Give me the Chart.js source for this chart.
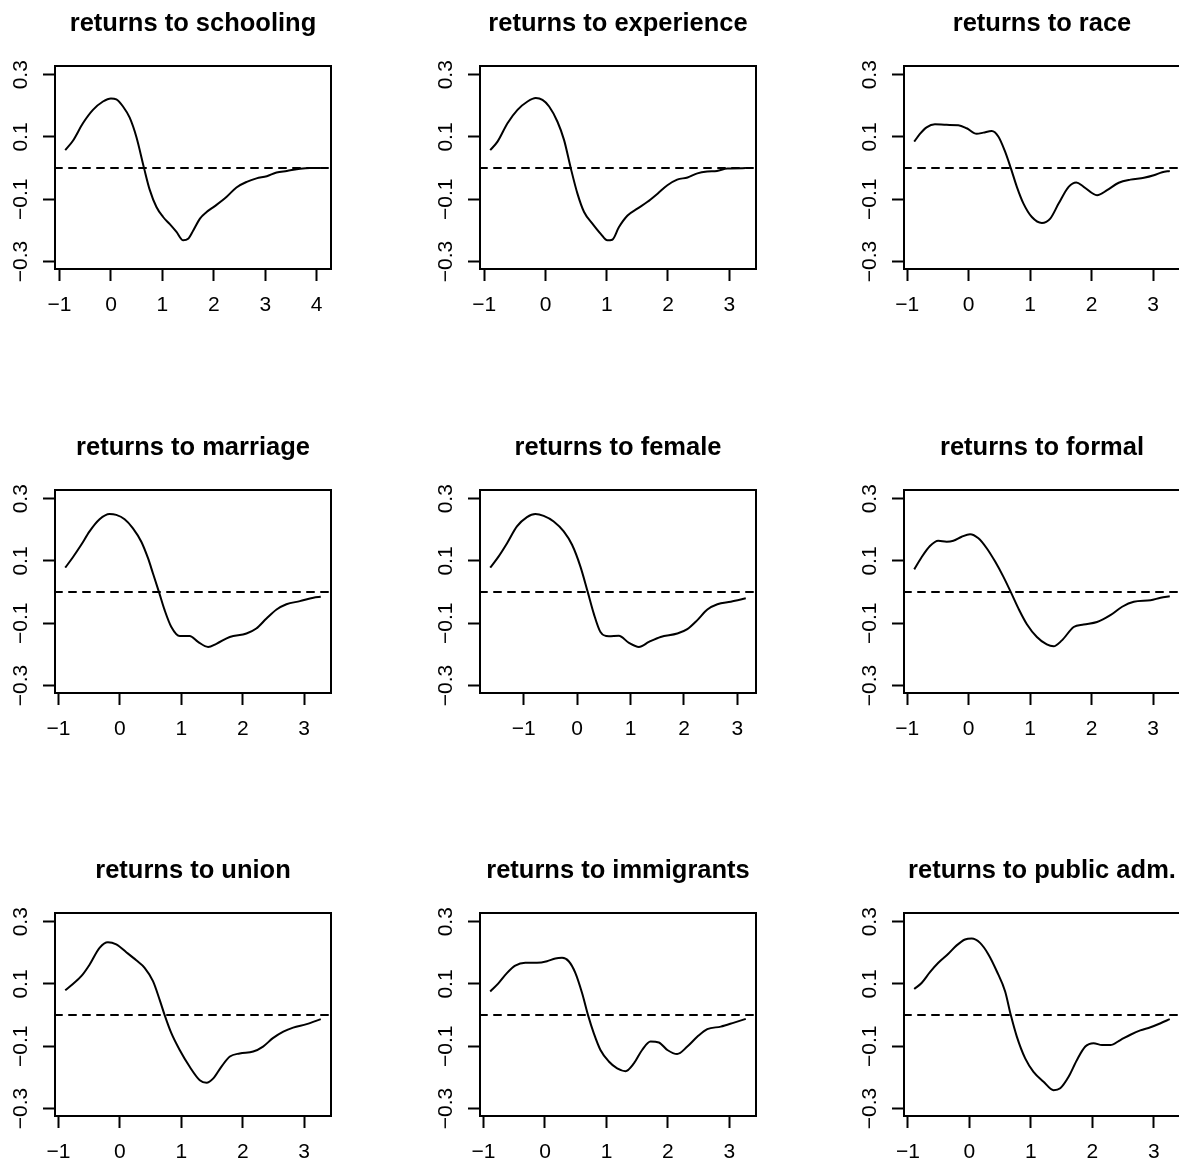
<!DOCTYPE html>
<html>
<head>
<meta charset="utf-8">
<script src="https://cdn.jsdelivr.net/npm/chart.js@4/dist/chart.umd.min.js"></script>
<style>
  html, body { margin: 0; padding: 0; background: #fff; }
  body { width: 1179px; height: 1167px; overflow: hidden; position: relative; }
  canvas { position: absolute; }
</style>
</head>
<body>
<script>
// Smoothed return profiles, one pair of arrays per covariate
const titles = [
  'returns to schooling', 'returns to experience', 'returns to race',
  'returns to marriage', 'returns to female', 'returns to formal',
  'returns to union', 'returns to immigrants', 'returns to public adm.'
];

const schoolingX = [-0.89,-0.74,-0.546,-0.351,-0.156,0,0.104,0.234,0.364,0.494,0.643,0.754,0.884,1.014,1.144,1.274,1.404,1.50,1.60,1.73,1.86,2.02,2.25,2.44,2.64,2.83,3.03,3.22,3.42,3.68,3.87,4.08];
const schoolingY = [0.058,0.088,0.144,0.187,0.214,0.224,0.221,0.198,0.162,0.100,0,-0.070,-0.125,-0.157,-0.180,-0.205,-0.232,-0.227,-0.20,-0.162,-0.141,-0.122,-0.092,-0.062,-0.044,-0.033,-0.026,-0.014,-0.009,-0.002,0,0];

const experienceX = [-0.902,-0.783,-0.62,-0.457,-0.293,-0.158,-0.049,0.06,0.196,0.304,0.413,0.522,0.63,0.766,0.902,1.01,1.09,1.20,1.34,1.50,1.66,1.83,1.99,2.15,2.32,2.48,2.64,2.80,2.97,3.27];
const experienceY = [0.058,0.085,0.144,0.187,0.214,0.225,0.219,0.198,0.149,0.090,0,-0.082,-0.141,-0.178,-0.211,-0.232,-0.23,-0.189,-0.152,-0.130,-0.109,-0.082,-0.055,-0.037,-0.030,-0.017,-0.011,-0.009,-0.001,0];

const raceX = [-0.886,-0.793,-0.685,-0.549,-0.359,-0.168,-0.033,0.13,0.239,0.375,0.484,0.592,0.685,0.783,0.891,1.027,1.19,1.326,1.462,1.625,1.75,1.87,2.087,2.25,2.44,2.63,2.85,3.01,3.147,3.27];
const raceY = [0.085,0.110,0.131,0.141,0.139,0.138,0.128,0.110,0.114,0.119,0.101,0.053,0,-0.060,-0.114,-0.157,-0.176,-0.162,-0.114,-0.060,-0.046,-0.060,-0.087,-0.071,-0.047,-0.037,-0.031,-0.023,-0.013,-0.009];

const marriageX = [-0.891,-0.766,-0.63,-0.495,-0.332,-0.168,-0.06,0.076,0.212,0.348,0.457,0.538,0.636,0.728,0.837,0.973,1.136,1.272,1.435,1.57,1.788,2.06,2.22,2.386,2.55,2.71,2.93,3.15,3.27];
const marriageY = [0.0785,0.112,0.152,0.195,0.234,0.251,0.248,0.234,0.205,0.162,0.109,0.060,0,-0.058,-0.112,-0.141,-0.141,-0.16,-0.176,-0.166,-0.144,-0.133,-0.117,-0.085,-0.056,-0.039,-0.029,-0.018,-0.015];

const femaleX = [-1.625,-1.47,-1.31,-1.125,-0.9375,-0.78,-0.625,-0.4375,-0.25,-0.094,0.0625,0.2,0.3125,0.4375,0.594,0.78,0.97,1.156,1.344,1.5625,1.875,2.0625,2.25,2.4375,2.625,2.875,3.156];
const femaleY = [0.0785,0.114,0.157,0.211,0.241,0.251,0.245,0.227,0.195,0.152,0.082,0,-0.069,-0.128,-0.142,-0.140,-0.163,-0.176,-0.160,-0.144,-0.133,-0.119,-0.090,-0.056,-0.039,-0.031,-0.020];

const formalX = [-0.886,-0.766,-0.63,-0.495,-0.359,-0.25,-0.114,0.022,0.158,0.293,0.43,0.565,0.685,0.81,0.946,1.109,1.27,1.38,1.516,1.707,1.87,2.087,2.304,2.495,2.685,2.957,3.12,3.27];
const formalY = [0.073,0.112,0.148,0.165,0.162,0.165,0.178,0.186,0.173,0.141,0.098,0.049,0,-0.053,-0.103,-0.144,-0.168,-0.174,-0.155,-0.112,-0.104,-0.096,-0.074,-0.047,-0.031,-0.026,-0.018,-0.013];

const unionX = [-0.891,-0.766,-0.63,-0.495,-0.332,-0.196,-0.06,0.103,0.266,0.402,0.538,0.647,0.728,0.837,0.973,1.136,1.30,1.41,1.52,1.65,1.79,1.95,2.17,2.33,2.49,2.66,2.82,3.04,3.27];
const unionY = [0.0796,0.10,0.125,0.162,0.216,0.234,0.227,0.202,0.176,0.152,0.109,0.049,0,-0.058,-0.112,-0.166,-0.209,-0.217,-0.203,-0.166,-0.133,-0.123,-0.117,-0.101,-0.074,-0.053,-0.040,-0.029,-0.013];

const immigrantsX = [-0.891,-0.755,-0.62,-0.484,-0.32,-0.13,0.033,0.168,0.277,0.386,0.495,0.603,0.70,0.793,0.902,1.038,1.174,1.31,1.446,1.58,1.717,1.853,1.99,2.15,2.315,2.48,2.64,2.86,3.076,3.266];
const immigrantsY = [0.076,0.103,0.135,0.159,0.168,0.168,0.173,0.182,0.184,0.173,0.135,0.071,0,-0.058,-0.112,-0.149,-0.171,-0.180,-0.155,-0.112,-0.085,-0.088,-0.112,-0.125,-0.101,-0.069,-0.045,-0.037,-0.024,-0.012];

const publicX = [-0.897,-0.777,-0.641,-0.505,-0.342,-0.207,-0.071,0.038,0.174,0.31,0.446,0.582,0.674,0.772,0.908,1.043,1.207,1.37,1.478,1.614,1.75,1.886,2.02,2.158,2.293,2.457,2.62,2.78,2.946,3.11,3.26];
const publicY = [0.084,0.103,0.138,0.168,0.197,0.224,0.243,0.246,0.232,0.195,0.141,0.076,0,-0.069,-0.139,-0.182,-0.214,-0.241,-0.235,-0.198,-0.144,-0.101,-0.090,-0.096,-0.096,-0.080,-0.063,-0.049,-0.039,-0.026,-0.013];

const yTicks = [-0.3, -0.1, 0.1, 0.3];
const yLimits = [-0.324, 0.328];
const xTicksLong = [-1, 0, 1, 2, 3, 4];
const xTicksShort = [-1, 0, 1, 2, 3];

const curves = [
  [schoolingX, schoolingY, xTicksLong],
  [experienceX, experienceY, xTicksShort],
  [raceX, raceY, xTicksShort],
  [marriageX, marriageY, xTicksShort],
  [femaleX, femaleY, xTicksShort],
  [formalX, formalY, xTicksShort],
  [unionX, unionY, xTicksShort],
  [immigrantsX, immigrantsY, xTicksShort],
  [publicX, publicY, xTicksShort]
];

// ---- drawing ----
const FONT = '"Liberation Sans", Arial, Helvetica, sans-serif';
const LW = 2;
const TICK_FONT = 21, TITLE_FONT = 25.5;
const CELL = 424;                 // canvas size per panel
const COL_LEFT = [0, 425, 849];
const ROW_TOP = [0, 424, 847];
const PLOT_LEFT = 55, PLOT_W = 276, PLOT_TOP = 66, PLOT_H = 203, X_AXIS_H = 60;
const TITLE_PAD_TOP = 9;

const minus = s => s.replace('-', '\u2212');

// R-style frame around the plotting region
const framePlugin = {
  id: 'frame',
  afterDatasetsDraw(chart) {
    const { ctx, chartArea: a } = chart;
    ctx.save();
    ctx.strokeStyle = '#000';
    ctx.lineWidth = LW;
    ctx.strokeRect(a.left, a.top, a.right - a.left, a.bottom - a.top);
    ctx.restore();
  }
};

curves.forEach(([xs, ys, xt], i) => {
  const lo = Math.min(...xs), hi = Math.max(...xs);
  const pad = 0.04 * (hi - lo);
  const xMin = lo - pad, xMax = hi + pad;

  const cv = document.createElement('canvas');
  cv.width = CELL; cv.height = CELL;
  cv.style.width = CELL + 'px'; cv.style.height = CELL + 'px';
  cv.style.left = COL_LEFT[i % 3] + 'px';
  cv.style.top = ROW_TOP[Math.floor(i / 3)] + 'px';
  document.body.appendChild(cv);

  const axisGrid = {
    display: true, drawOnChartArea: false, drawTicks: true,
    tickLength: 12, tickWidth: LW, tickColor: '#000', color: '#000'
  };

  new Chart(cv, {
    type: 'line',
    data: {
      datasets: [
        {
          data: xs.map((x, k) => ({ x, y: ys[k] })),
          borderColor: '#000', borderWidth: LW, pointRadius: 0,
          cubicInterpolationMode: 'monotone', fill: false
        },
        {
          data: [{ x: xMin, y: 0 }, { x: xMax, y: 0 }],
          borderColor: '#000', borderWidth: LW, pointRadius: 0,
          borderDash: [7, 7], borderCapStyle: 'round', fill: false
        }
      ]
    },
    options: {
      responsive: false, animation: false, devicePixelRatio: 1,
      events: [],
      layout: {
        padding: { left: 0, top: 0, right: CELL - PLOT_LEFT - PLOT_W, bottom: CELL - PLOT_TOP - PLOT_H - X_AXIS_H }
      },
      plugins: {
        legend: { display: false },
        tooltip: { enabled: false },
        title: {
          display: true, text: titles[i], fullSize: false, color: '#000',
          font: { family: FONT, size: TITLE_FONT, weight: 'bold', lineHeight: 1.2 },
          padding: { top: TITLE_PAD_TOP, bottom: PLOT_TOP - TITLE_PAD_TOP - TITLE_FONT * 1.2 }
        }
      },
      scales: {
        x: {
          type: 'linear', min: xMin, max: xMax,
          afterBuildTicks: s => { s.ticks = xt.map(v => ({ value: v })); },
          afterFit: s => { s.height = X_AXIS_H; s.paddingLeft = 0; s.paddingRight = 0; },
          grid: axisGrid,
          border: { display: true, color: '#000', width: LW },
          ticks: {
            color: '#000', font: { family: FONT, size: TICK_FONT }, padding: 12,
            maxRotation: 0, autoSkip: false,
            callback: v => minus(String(v))
          }
        },
        y: {
          type: 'linear', min: yLimits[0], max: yLimits[1],
          afterBuildTicks: s => { s.ticks = yTicks.map(v => ({ value: v })); },
          afterFit: s => { s.width = PLOT_LEFT; s.paddingTop = 0; s.paddingBottom = 0; },
          grid: axisGrid,
          border: { display: true, color: '#000', width: LW },
          ticks: {
            color: '#000', font: { family: FONT, size: TICK_FONT }, padding: 1,
            minRotation: 90, maxRotation: 90, crossAlign: 'center', autoSkip: false,
            callback: v => minus(v.toFixed(1))
          }
        }
      }
    },
    plugins: [framePlugin]
  });
});
</script>
</body>
</html>
